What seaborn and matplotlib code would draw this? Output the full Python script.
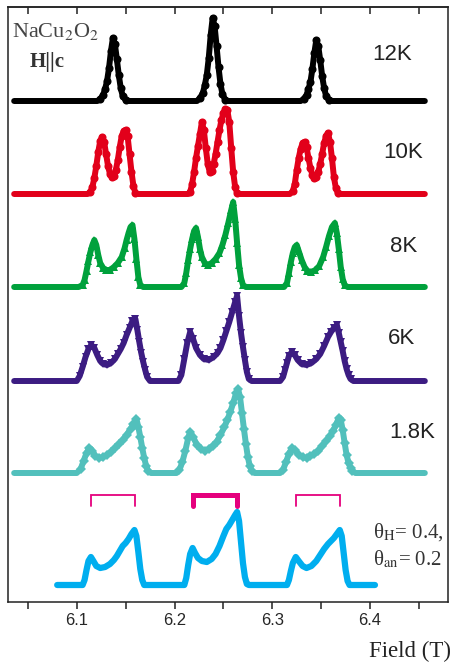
import numpy as np
import matplotlib
matplotlib.use("Agg")
import matplotlib.pyplot as plt
from matplotlib.ticker import MultipleLocator
import seaborn as sns

# NMR spectra of NaCu2O2, H||c.
# Each trace: (field in T, intensity in a.u. above its own baseline)
trace_12k = [
    (6.036, 0), (6.060, 0), (6.085, 0), (6.110, 0), (6.121, 0),
    (6.124, 2), (6.127, 6), (6.129, 12), (6.131, 20), (6.133, 33), (6.135, 50),
    (6.137, 63), (6.139, 57), (6.141, 42), (6.143, 26), (6.145, 13), (6.147, 5),
    (6.150, 1), (6.153, 0), (6.175, 0), (6.200, 0),
    (6.223, 0), (6.226, 3), (6.229, 8), (6.231, 16), (6.233, 26), (6.235, 43),
    (6.237, 66), (6.239, 83), (6.241, 75), (6.243, 55), (6.245, 34), (6.247, 17),
    (6.249, 7), (6.252, 1), (6.255, 0), (6.280, 0), (6.305, 0),
    (6.329, 0), (6.332, 2), (6.335, 6), (6.337, 12), (6.339, 19), (6.341, 32),
    (6.343, 48), (6.345, 61), (6.347, 55), (6.349, 41), (6.351, 25), (6.353, 13),
    (6.355, 5), (6.358, 1), (6.361, 0), (6.385, 0), (6.410, 0), (6.435, 0), (6.456, 0),
]

trace_10k = [
    (6.036, 0), (6.060, 0), (6.085, 0), (6.111, 0), (6.114, 2), (6.116, 7),
    (6.118, 16), (6.120, 28), (6.122, 42), (6.124, 53), (6.126, 57), (6.128, 52),
    (6.130, 40), (6.132, 28), (6.134, 20), (6.136, 17), (6.138, 18), (6.140, 24),
    (6.142, 34), (6.144, 47), (6.146, 58), (6.148, 63), (6.150, 64), (6.152, 58),
    (6.154, 40), (6.156, 22), (6.158, 8), (6.160, 1), (6.163, 0), (6.190, 0),
    (6.214, 0), (6.216, 2), (6.218, 10), (6.220, 22), (6.222, 36), (6.224, 48),
    (6.226, 60), (6.228, 72), (6.230, 64), (6.232, 46), (6.234, 30), (6.236, 22),
    (6.238, 23), (6.240, 30), (6.242, 40), (6.244, 52), (6.246, 64), (6.248, 74),
    (6.250, 81), (6.252, 85), (6.254, 84), (6.256, 72), (6.258, 46), (6.260, 22),
    (6.262, 7), (6.264, 1), (6.267, 0), (6.295, 0),
    (6.318, 0), (6.321, 3), (6.323, 10), (6.325, 24), (6.327, 36), (6.329, 45),
    (6.331, 51), (6.333, 52), (6.335, 47), (6.337, 36), (6.339, 26), (6.341, 19),
    (6.343, 16), (6.345, 17), (6.347, 22), (6.349, 30), (6.351, 40), (6.353, 51),
    (6.355, 58), (6.357, 61), (6.359, 52), (6.361, 36), (6.363, 17), (6.365, 6),
    (6.367, 1), (6.370, 0), (6.400, 0), (6.430, 0), (6.456, 0),
]

trace_8k = [
    (6.036, 0), (6.060, 0), (6.085, 0), (6.102, 0), (6.106, 2), (6.108, 7),
    (6.110, 16), (6.112, 26), (6.114, 35), (6.116, 42), (6.118, 47), (6.120, 42),
    (6.122, 32), (6.124, 24), (6.127, 19), (6.130, 17), (6.134, 17), (6.138, 20),
    (6.142, 24), (6.146, 30), (6.149, 39), (6.151, 47), (6.153, 54), (6.155, 60),
    (6.157, 62), (6.159, 48), (6.161, 28), (6.163, 10), (6.165, 2), (6.168, 0),
    (6.190, 0), (6.207, 0), (6.210, 4), (6.212, 14), (6.214, 27), (6.216, 38),
    (6.218, 48), (6.220, 56), (6.222, 59), (6.224, 50), (6.226, 38), (6.228, 30),
    (6.231, 24), (6.234, 22), (6.238, 24), (6.242, 28), (6.246, 34), (6.249, 42),
    (6.252, 52), (6.255, 64), (6.258, 77), (6.260, 85), (6.262, 68), (6.264, 44),
    (6.266, 22), (6.268, 9), (6.270, 2), (6.273, 0), (6.295, 0),
    (6.312, 0), (6.315, 4), (6.317, 14), (6.319, 25), (6.321, 34), (6.323, 40),
    (6.325, 42), (6.327, 36), (6.330, 27), (6.333, 20), (6.336, 16), (6.340, 15),
    (6.344, 17), (6.348, 21), (6.352, 30), (6.355, 40), (6.358, 51), (6.361, 60),
    (6.364, 64), (6.366, 54), (6.368, 38), (6.370, 20), (6.372, 8), (6.374, 2),
    (6.377, 0), (6.400, 0), (6.430, 0), (6.456, 0),
]

trace_6k = [
    (6.036, 0), (6.060, 0), (6.085, 0), (6.100, 0), (6.103, 5), (6.106, 14),
    (6.109, 24), (6.112, 32), (6.115, 36), (6.118, 33), (6.121, 26), (6.124, 20),
    (6.127, 17), (6.131, 16), (6.135, 18), (6.139, 22), (6.142, 27), (6.145, 32),
    (6.148, 38), (6.151, 46), (6.154, 53), (6.157, 60), (6.160, 62), (6.162, 51),
    (6.164, 39), (6.166, 28), (6.168, 19), (6.170, 11), (6.172, 4), (6.175, 0),
    (6.190, 0), (6.204, 0), (6.207, 6), (6.210, 22), (6.213, 38), (6.216, 49),
    (6.219, 42), (6.222, 33), (6.226, 26), (6.230, 22), (6.235, 21), (6.240, 24),
    (6.244, 28), (6.247, 33), (6.250, 41), (6.253, 50), (6.256, 59), (6.259, 69),
    (6.262, 79), (6.264, 85), (6.266, 65), (6.268, 48), (6.270, 34), (6.272, 21),
    (6.274, 9), (6.276, 2), (6.279, 0), (6.295, 0),
    (6.308, 0), (6.311, 4), (6.313, 11), (6.315, 18), (6.317, 25), (6.320, 29),
    (6.323, 26), (6.326, 21), (6.330, 17), (6.335, 16), (6.340, 18), (6.345, 22),
    (6.349, 27), (6.353, 35), (6.357, 44), (6.360, 49), (6.363, 53), (6.366, 56),
    (6.368, 48), (6.370, 39), (6.372, 30), (6.374, 20), (6.376, 12), (6.378, 6),
    (6.380, 2), (6.383, 0), (6.400, 0), (6.430, 0), (6.456, 0),
]

trace_1p8k = [
    (6.036, 0), (6.060, 0), (6.085, 0), (6.100, 0), (6.104, 4), (6.107, 12),
    (6.110, 20), (6.113, 25), (6.116, 22), (6.119, 17), (6.123, 15), (6.127, 16),
    (6.131, 18), (6.135, 21), (6.139, 25), (6.143, 29), (6.147, 33), (6.151, 38),
    (6.155, 44), (6.158, 49), (6.161, 54), (6.163, 46), (6.165, 36), (6.167, 25),
    (6.169, 15), (6.171, 7), (6.173, 2), (6.176, 0), (6.190, 0),
    (6.202, 0), (6.205, 3), (6.208, 11), (6.211, 22), (6.214, 35), (6.216, 41),
    (6.219, 36), (6.223, 28), (6.227, 24), (6.231, 22), (6.235, 24), (6.239, 27),
    (6.243, 31), (6.247, 38), (6.251, 46), (6.254, 53), (6.257, 61), (6.260, 70),
    (6.263, 80), (6.265, 84), (6.267, 76), (6.269, 60), (6.271, 44), (6.273, 29),
    (6.275, 16), (6.277, 7), (6.279, 2), (6.282, 0), (6.295, 0),
    (6.308, 0), (6.311, 3), (6.314, 11), (6.317, 19), (6.320, 25), (6.323, 23),
    (6.327, 18), (6.331, 16), (6.335, 15), (6.339, 17), (6.343, 19), (6.347, 22),
    (6.351, 27), (6.355, 32), (6.359, 37), (6.362, 42), (6.365, 48), (6.368, 55),
    (6.370, 53), (6.372, 43), (6.374, 30), (6.376, 18), (6.378, 10), (6.380, 5),
    (6.382, 2), (6.385, 0), (6.400, 0), (6.430, 0), (6.456, 0),
]

# simulated line shape (theta_H = 0.4, theta_an = 0.2)
trace_sim = [
    (6.080, 0), (6.106, 0), (6.108, 5), (6.110, 15), (6.112, 24), (6.1145, 28),
    (6.117, 24), (6.120, 19), (6.124, 17), (6.129, 18), (6.134, 21), (6.138, 25),
    (6.141, 29), (6.144, 34), (6.147, 39), (6.150, 42), (6.153, 46), (6.156, 51),
    (6.159, 55), (6.161, 49), (6.163, 33), (6.165, 16), (6.167, 5), (6.169, 0),
    (6.210, 0), (6.212, 7), (6.214, 20), (6.216, 31), (6.2185, 37), (6.221, 32),
    (6.224, 27), (6.228, 24), (6.233, 23), (6.238, 26), (6.242, 31), (6.246, 39),
    (6.250, 49), (6.253, 56), (6.256, 60), (6.259, 65), (6.262, 70), (6.264, 73),
    (6.266, 64), (6.268, 43), (6.270, 22), (6.272, 8), (6.274, 1), (6.276, 0),
    (6.315, 0), (6.317, 5), (6.319, 14), (6.321, 22), (6.324, 28), (6.327, 24),
    (6.331, 19), (6.335, 17), (6.340, 19), (6.345, 24), (6.349, 30), (6.353, 36),
    (6.357, 41), (6.360, 44), (6.363, 47), (6.366, 51), (6.369, 55), (6.371, 49),
    (6.373, 32), (6.375, 15), (6.377, 4), (6.379, 0), (6.405, 0),
]

temps = ["12K", "10K", "8K", "6K", "1.8K"]
traces = [trace_12k, trace_10k, trace_8k, trace_6k, trace_1p8k]
offsets = [501, 408, 315, 221, 129]
sim_offset = 17
colors = ["#000000", "#e2001a", "#00a13c", "#3c1c82", "#52c0bc"]
markers = ["o", "o", "^", "v", "D"]
marker_sizes = [5.8, 5.8, 6.4, 6.4, 5.0]
label_x = [6.402, 6.413, 6.420, 6.418, 6.420]
label_y = [547, 449, 356, 264, 169]

# brackets above simulated spectrum
bracket_left = [6.1146, 6.2186, 6.3243]
bracket_right = [6.1596, 6.2643, 6.3693]
bracket_lw = [1.3, 3.6, 1.3]
bracket_top = 107
bracket_bottom = 96

sns.set_style("ticks")
plt.rcParams["font.family"] = ["Liberation Sans", "DejaVu Sans"]
plt.rcParams["mathtext.fontset"] = "stix"

fig = plt.figure(figsize=(4.52, 6.62), dpi=100)
ax = fig.add_axes([8 / 452, 60 / 662, 440 / 452, 595 / 662])

for tr, off, c, m, ms in zip(traces, offsets, colors, markers, marker_sizes):
    f = np.array([p[0] for p in tr])
    a = np.array([p[1] for p in tr])
    # markers only where the signal rises off the baseline
    sns.lineplot(x=f, y=a + off, ax=ax, color=c, lw=4.3, marker=m, markersize=ms,
                 markeredgewidth=0, markevery=list(a > 0), estimator=None,
                 sort=False, legend=False, solid_capstyle="round")

f = np.array([p[0] for p in trace_sim])
a = np.array([p[1] for p in trace_sim]) + sim_offset
sns.lineplot(x=f, y=a, ax=ax, color="#00aeef", lw=4.5, estimator=None,
             sort=False, legend=False, solid_capstyle="round", solid_joinstyle="round")

for xl, xr, lw in zip(bracket_left, bracket_right, bracket_lw):
    ax.plot([xl, xl, xr, xr], [bracket_bottom, bracket_top, bracket_top, bracket_bottom],
            color="#e5007d", lw=lw, solid_joinstyle="miter")

for t, xx, yy in zip(temps, label_x, label_y):
    ax.text(xx, yy, t, fontsize=16, color="#222222", ha="left", va="center")

serif = ["Liberation Serif", "DejaVu Serif"]
ax.text(6.0338, 565, r"NaCu$_2$O$_2$", fontsize=16, family=serif, color="#444444",
        ha="left", va="baseline")
ax.text(6.0523, 535, "H||c", fontsize=15, family=serif, weight="bold", color="#333333",
        ha="left", va="baseline")
ax.text(6.4031, 64, r"θ$_{\rm H}$= 0.4,", fontsize=15, family=serif, color="#333333",
        ha="left", va="baseline")
ax.text(6.4031, 37, r"θ$_{\rm an}$= 0.2", fontsize=15, family=serif, color="#333333",
        ha="left", va="baseline")

ax.set_xlim(6.0297, 6.4797)
ax.set_ylim(0, 595)
ax.set_yticks([])
ax.set_ylabel("")
ax.xaxis.set_major_locator(MultipleLocator(0.1))
ax.xaxis.set_minor_locator(MultipleLocator(0.05))
ax.tick_params(axis="x", which="both", direction="out", length=5, width=1.1,
               color="#222222", labelsize=12, pad=3)
for s in ax.spines.values():
    s.set_visible(True)
    s.set_linewidth(1.1)
    s.set_color("#222222")

top = ax.secondary_xaxis("top")
top.xaxis.set_major_locator(MultipleLocator(0.1))
top.xaxis.set_minor_locator(MultipleLocator(0.05))
top.tick_params(axis="x", which="both", direction="in", length=5, width=1.1,
                color="#222222", labeltop=False)
top.spines["top"].set_linewidth(1.1)

fig.text(451 / 452, 1 - 657 / 662, "Field (T)", fontsize=16.5, family=serif,
         color="#222222", ha="right", va="baseline")

fig.savefig("out.png", dpi=100)
